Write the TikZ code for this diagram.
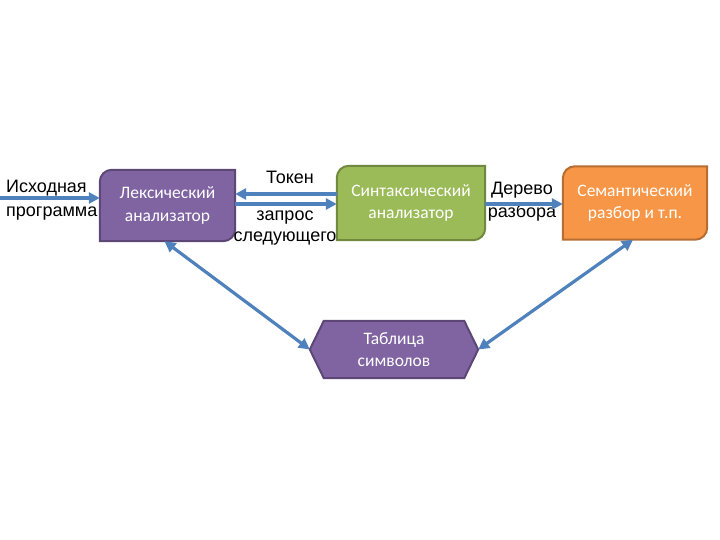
\documentclass[tikz,border=0pt]{standalone}
\usepackage{fontspec}
\usepackage{xcolor}
\usepackage{tikz}
\usetikzlibrary{arrows.meta}
\usetikzlibrary{backgrounds}
\newfontfamily\boxfont{Carlito}
\newfontfamily\labelfont{Liberation Sans}
\definecolor{arrowblue}{HTML}{4F81BD}
\definecolor{lexfill}{HTML}{8064A2}
\definecolor{lexline}{HTML}{5C4776}
\definecolor{synfill}{HTML}{9BBB59}
\definecolor{synline}{HTML}{71893F}
\definecolor{semfill}{HTML}{F79646}
\definecolor{semline}{HTML}{B66D31}
\tikzset{
  stage/.style={inner sep=0pt, align=center, text=white,
    font=\boxfont\fontsize{17.5}{22.5}\selectfont},
  note/.style={inner sep=0pt, font=\labelfont\fontsize{18}{23.5}\selectfont},
  flow/.style={line width=3.2pt, arrowblue},
  >={Triangle[length=11pt,width=11pt]}
}
% box with two rounded corners (top left, bottom right)
\newcommand{\cornerbox}[3]{%
  \draw[line width=2pt, draw=#3, fill=#2]
    (#1.south west) -- ([yshift=-12pt]#1.north west)
    arc[start angle=180, end angle=90, radius=12pt]
    -- (#1.north east) -- ([yshift=12pt]#1.south east)
    arc[start angle=0, end angle=-90, radius=12pt] -- cycle;}

\begin{document}
\begin{tikzpicture}[x=1pt, y=1pt]
    \useasboundingbox (0,0) rectangle (720,540);
    % stages
    \node [stage, minimum width=135pt, minimum height=71pt] (lex) at (167.5,334.5) {Лексический\\анализатор};
    \node [stage, minimum width=148pt, minimum height=74pt] (syn) at (411,337) {Синтаксический\\анализатор};
    \node [stage, minimum width=144pt, minimum height=73pt] (sem) at (635,337) {Семантический\\разбор и т.п.};
    \node [stage, minimum width=168pt, minimum height=57pt] (tab) at (394,190.5) {Таблица\\символов};
    \begin{scope}[on background layer]
      \cornerbox{lex}{lexfill}{lexline}
      \cornerbox{syn}{synfill}{synline}
      \cornerbox{sem}{semfill}{semline}
      \draw [line width=2pt, draw=lexline, fill=lexfill]
        (tab.west) -- ([xshift=14pt]tab.north west) -- ([xshift=-14pt]tab.north east)
        -- (tab.east) -- ([xshift=-14pt]tab.south east) -- ([xshift=14pt]tab.south west) -- cycle;
    \end{scope}
    % labels
    \node [note, align=left, anchor=west] (src text) at (6,340) {Исходная\\программа};
    \node [note] (token) at (290,363) {Токен};
    \node [note, align=center, font=\labelfont\fontsize{18}{21.5}\selectfont] (request) at (285,312) {запрос\\следующего};
    \node [note, align=center] (tree) at (522,338.5) {Дерево\\разбора};
    % connectors
    \coordinate (src) at (0,342);
    \draw [flow,->] (src) -- (src -| lex.west);
    \draw [flow,->] ([yshift=9pt]syn.west) -- ([yshift=9pt]syn.west -| lex.east);
    \draw [flow,->] ([yshift=-1pt]syn.west -| lex.east) -- ([yshift=-1pt]syn.west);
    \draw [flow,->] ([yshift=-1pt]syn.east) -- ([yshift=-1pt]syn.east -| sem.west);
    \draw [flow,<->] ([xshift=-3pt]lex.south) -- (tab.west);
    \draw [flow,<->] ([xshift=-2pt]sem.south) -- (tab.east);
  \end{tikzpicture}
\end{document}
